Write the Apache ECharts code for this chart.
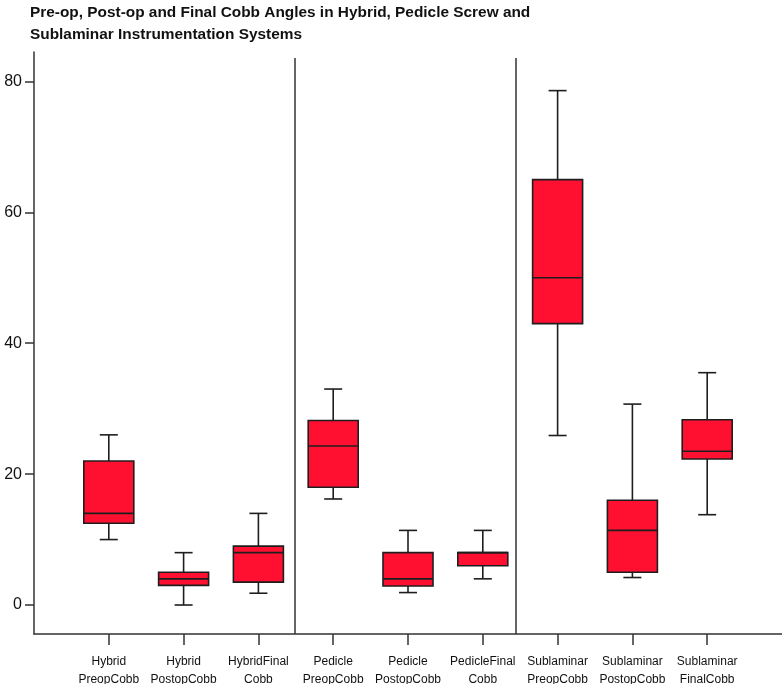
<!DOCTYPE html>
<html>
<head>
<meta charset="utf-8">
<script src="https://cdn.jsdelivr.net/npm/echarts@6/dist/echarts.min.js"></script>
<style>
html,body{margin:0;padding:0;background:#fff;}
#chart{width:782px;height:684px;}
</style>
</head>
<body>
<div id="chart"></div>
<script>
// Categories (x axis labels)
const categories = [
  'Hybrid\nPreopCobb', 'Hybrid\nPostopCobb', 'HybridFinal\nCobb',
  'Pedicle\nPreopCobb', 'Pedicle\nPostopCobb', 'PedicleFinal\nCobb',
  'Sublaminar\nPreopCobb', 'Sublaminar\nPostopCobb', 'Sublaminar\nFinalCobb'
];
// Box statistics per category
const whiskerLow  = [10.0, 0.0, 1.8, 16.2, 1.9, 4.0, 25.9, 4.2, 13.8];
const q1          = [12.5, 3.0, 3.5, 18.0, 2.9, 6.0, 43.0, 5.0, 22.3];
const median      = [14.0, 4.0, 8.0, 24.3, 4.0, 8.0, 50.0, 11.4, 23.5];
const q3          = [22.0, 5.0, 9.0, 28.2, 8.0, 8.0, 65.0, 16.0, 28.3];
const whiskerHigh = [26.0, 8.0, 14.0, 33.0, 11.4, 11.4, 78.6, 30.7, 35.5];
// Y axis tick labels
const yTicks = [0, 20, 40, 60, 80];
// Group separators (between category groups)
const separators = [2.49, 5.435];

const boxData = categories.map((c, i) => [i, whiskerLow[i], q1[i], median[i], q3[i], whiskerHigh[i]]);

const yMin = -4.43, yMax = 84.5, sepTop = 83.6;
const BOX_W = 50, CAP_W = 18;
const FILL = '#ff1030', EDGE = '#1e1e1e';

function renderBox(params, api) {
  const x = api.value(0);
  const lo = api.coord([x, api.value(1)]);
  const b1 = api.coord([x, api.value(2)]);
  const md = api.coord([x, api.value(3)]);
  const b3 = api.coord([x, api.value(4)]);
  const hi = api.coord([x, api.value(5)]);
  const cx = lo[0];
  const ls = {stroke: EDGE, lineWidth: 1.6};
  return {
    type: 'group',
    children: [
      {type: 'line', shape: {x1: cx, y1: hi[1], x2: cx, y2: b3[1]}, style: ls},
      {type: 'line', shape: {x1: cx, y1: b1[1], x2: cx, y2: lo[1]}, style: ls},
      {type: 'line', shape: {x1: cx - CAP_W / 2, y1: hi[1], x2: cx + CAP_W / 2, y2: hi[1]}, style: ls},
      {type: 'line', shape: {x1: cx - CAP_W / 2, y1: lo[1], x2: cx + CAP_W / 2, y2: lo[1]}, style: ls},
      {type: 'rect', shape: {x: cx - BOX_W / 2, y: b3[1], width: BOX_W, height: b1[1] - b3[1]},
        style: {fill: FILL, stroke: EDGE, lineWidth: 1.6}},
      {type: 'line', shape: {x1: cx - BOX_W / 2, y1: md[1], x2: cx + BOX_W / 2, y2: md[1]}, style: ls}
    ]
  };
}

const chart = echarts.init(document.getElementById('chart'), null, {renderer: 'canvas'});
chart.setOption({
  animation: false,
  backgroundColor: '#fff',
  title: {
    text: 'Pre-op, Post-op and Final Cobb Angles in Hybrid, Pedicle Screw and\nSublaminar Instrumentation Systems',
    left: 30, top: 2, padding: 0,
    textStyle: {fontFamily: 'Liberation Sans', fontSize: 15.4, fontWeight: 'bold', color: '#111', lineHeight: 22}
  },
  grid: {left: 34, right: 0, top: 52, bottom: 50, containLabel: false, outerBoundsMode: 'none'},
  xAxis: {
    type: 'value', min: -1, max: 9,
    splitLine: {show: false},
    axisLine: {show: true, onZero: false, lineStyle: {color: '#333', width: 1.5}},
    axisTick: {show: true, length: 11, customValues: categories.map((c, i) => i), lineStyle: {color: '#333', width: 1.5}},
    axisLabel: {
      customValues: categories.map((c, i) => i),
      formatter: v => categories[Math.round(v)] || '',
      fontFamily: 'Liberation Sans', fontSize: 12, color: '#111', lineHeight: 18, margin: 19
    }
  },
  yAxis: {
    type: 'value', min: yMin, max: yMax,
    splitLine: {show: false},
    axisLine: {show: true, onZero: false, lineStyle: {color: '#333', width: 1.5}},
    axisTick: {show: true, length: 9, customValues: yTicks, lineStyle: {color: '#333', width: 1.5}},
    axisLabel: {customValues: yTicks, fontFamily: 'Liberation Sans', fontSize: 16, color: '#111', margin: 12}
  },
  series: [
    {
      type: 'custom',
      renderItem: renderBox,
      data: boxData,
      encode: {x: 0, y: [1, 2, 3, 4, 5]},
      clip: false,
      z: 3
    },
    {
      type: 'line',
      data: [],
      silent: true,
      markLine: {
        silent: true,
        symbol: 'none',
        label: {show: false},
        lineStyle: {color: '#333', width: 1.5, type: 'solid'},
        data: separators.map(s => [{coord: [s, yMin]}, {coord: [s, sepTop]}])
      }
    }
  ]
});
</script>
</body>
</html>
